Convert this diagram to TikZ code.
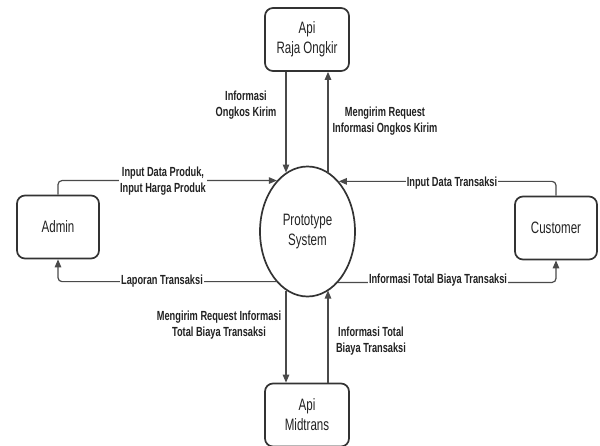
\documentclass[tikz,border=0pt]{standalone}
\usepackage{fontspec}
\setmainfont{Liberation Sans}[FakeStretch=0.7]
\usetikzlibrary{shapes.geometric,arrows.meta}
\definecolor{lineGray}{HTML}{4A4A4A}
\definecolor{boxGray}{HTML}{333333}
\definecolor{textGray}{HTML}{222222}
\begin{document}
\begin{tikzpicture}[x=1pt,y=-1pt,%
  entity/.style={draw=boxGray,line width=1.7pt,rounded corners=8pt,minimum width=84pt,minimum height=63pt,align=center,text=textGray,font=\fontsize{16.5}{20}\selectfont},%
  process/.style={ellipse,draw=boxGray,line width=1.7pt,minimum width=95pt,minimum height=130pt,inner sep=0pt,align=center,text=textGray,font=\fontsize{16.5}{20}\selectfont},%
  flow/.style={draw=lineGray,line width=1.2pt,rounded corners=4pt,-{Triangle[length=8pt,width=6.5pt]}},%
  lbl/.style={fill=white,inner sep=1pt,align=center,text=textGray,font=\fontsize{13.2}{16}\selectfont\bfseries}]%
\useasboundingbox (0,0) rectangle (600,445);%
%
% entities and process
\node[entity] (raja) at (307,39.5) {Api\\Raja Ongkir};%
\node[entity] (midtrans) at (307,415) {Api\\Midtrans};%
\node[entity,minimum width=82pt] (admin) at (58,227) {Admin};%
\node[entity,minimum width=82pt] (customer) at (556,228) {Customer};%
\node[process] (sys) at (307.5,231.5) {Prototype\\System};%
%
\def\gap{21pt};%
\coordinate (rajaL) at ([xshift=-\gap]raja.south);%
\coordinate (rajaR) at ([xshift=\gap]raja.south);%
\coordinate (midL) at ([xshift=-\gap]midtrans.north);%
\coordinate (midR) at ([xshift=\gap]midtrans.north);%
%
% Raja Ongkir
\draw[flow] (rajaL) -- (rajaL |- sys.110);%
\draw[flow] (rajaR |- sys.70) -- (rajaR);%
\node[lbl] (lOngkos) at (246,105) {Informasi\\Ongkos Kirim};%
\node[lbl] (lReqOngkos) at (385,121) {Mengirim Request\\Informasi Ongkos Kirim};%
%
% Midtrans
\draw[flow] (midL |- sys.250) -- (midL);%
\draw[flow] (midR) -- (midR |- sys.290);%
\node[lbl] (lReqBiaya) at (219,325) {Mengirim Request Informasi\\Total Biaya Transaksi};%
\node[lbl] (lBiaya) at (371,341) {Informasi Total\\Biaya Transaksi};%
%
% Admin
\draw[flow] (admin.north) |- (sys.121.6);%
\draw[flow] (sys.238.4) -| (admin.south);%
\node[lbl] (lProduk) at (163,181) {Input Data Produk,\\Input Harga Produk};%
\node[lbl] (lLaporan) at (162,281) {Laporan Transaksi};%
%
% Customer
\draw[flow] (customer.north) |- (sys.58.4);%
\draw[flow] (sys.301.6) -| (customer.south);%
\node[lbl] (lTransaksi) at (452,183) {Input Data Transaksi};%
\node[lbl] (lTotal) at (438,280) {Informasi Total Biaya Transaksi};%
%
\end{tikzpicture}
\end{document}
